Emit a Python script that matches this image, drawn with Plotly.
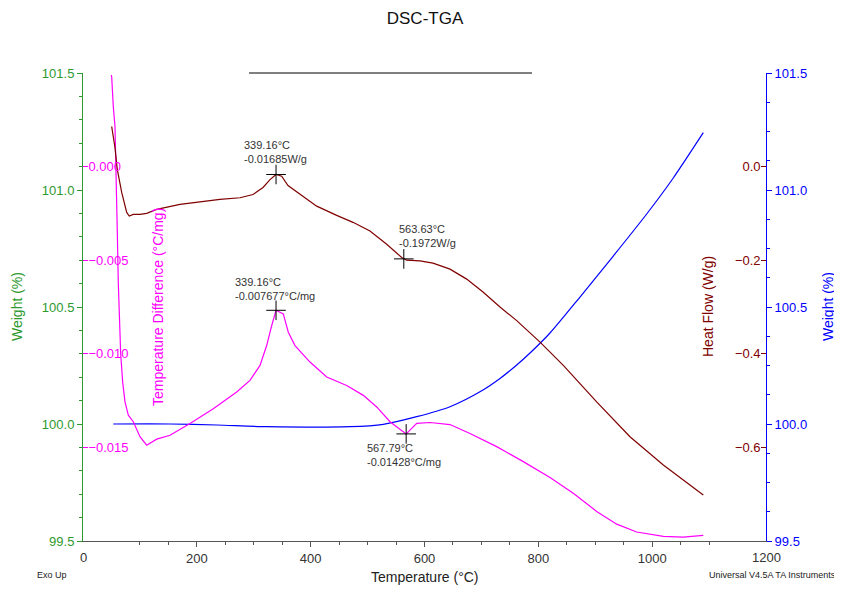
import plotly.graph_objects as go

# ---- data ----
td_temp = [49.7, 50.4, 53.2, 56.2, 57.5, 59.2, 60.3, 62.0, 65.0, 66.2, 69.7, 73.8, 79.6, 88.4,
           100.1, 111.9, 129.5, 152.9, 188.0, 228.9, 270.0, 293.4, 311.0, 322.7, 331.5, 337.3,
           339.16, 351.9, 360.7, 372.5, 398.8, 428.2, 463.3, 492.5, 516.0, 539.4, 567.79,
           574.5, 586.3, 609.7, 627.2, 644.8, 679.9, 726.8, 773.6, 820.5, 861.4, 902.5,
           937.7, 972.8, 1019.6, 1054.7, 1089.8]
td_vals = [0.00489, 0.00480, 0.00321, 0.00214, 0.00037, -0.00140, -0.00353, -0.00619, -0.00885,
           -0.01000, -0.01151, -0.01257, -0.01328, -0.01363, -0.01443, -0.01488, -0.01456,
           -0.01435, -0.01372, -0.01293, -0.01204, -0.01142, -0.01062, -0.00956, -0.00850,
           -0.00778, -0.007677, -0.00787, -0.00885, -0.00956, -0.01044, -0.01124, -0.01169,
           -0.01222, -0.01284, -0.01363, -0.01428, -0.01408, -0.01372, -0.01367, -0.01372,
           -0.01378, -0.01426, -0.01496, -0.01576, -0.01661, -0.01745, -0.01842, -0.01910,
           -0.01952, -0.01975, -0.01979, -0.01970]

hf_temp = [50.4, 56.2, 60.3, 68.0, 76.8, 81.3, 88.4, 100.1, 111.9, 129.5, 170.4, 240.7, 275.8,
           298.7, 316.3, 328.6, 339.16, 349.1, 360.2, 381.3, 410.6, 445.7, 474.4, 504.2, 533.6,
           560.0, 563.63, 568.7, 592.1, 614.9, 644.8, 674.1, 702.8, 732.6, 762.0, 803.0, 843.9,
           902.5, 961.0, 1019.6, 1089.8]
hf_vals = [0.0857, 0.0404, -0.0064, -0.0553, -0.0979, -0.1057, -0.1021, -0.1021, -0.1000,
           -0.0915, -0.0809, -0.0702, -0.0666, -0.0596, -0.0447, -0.0277, -0.01685, -0.0206,
           -0.0404, -0.0596, -0.0845, -0.1043, -0.1191, -0.1377, -0.1660, -0.1943, -0.1972,
           -0.2000, -0.2015, -0.2064, -0.2191, -0.2404, -0.2681, -0.3000, -0.3291, -0.3751,
           -0.4249, -0.5028, -0.5772, -0.6377, -0.7015]

wt_temp = [53.2, 152.9, 234.9, 322.7, 469.1, 527.6, 586.3, 644.8, 702.8, 732.6, 762.0, 785.4,
           820.5, 873.2, 931.7, 990.4, 1037.1, 1089.8]
wt_vals = [100.000, 100.000, 99.9957, 99.9885, 99.9885, 99.9987, 100.0312, 100.0739, 100.1453,
           100.1944, 100.2521, 100.3034, 100.3889, 100.5427, 100.7179, 100.8974, 101.0513,
           101.2449]

hf_peak_t = [339.16, 563.63]
hf_peak_v = [-0.01685, -0.1972]
td_peak_t = [339.16, 567.79]
td_peak_v = [-0.007677, -0.01428]

hf_ticks = [0.0, -0.2, -0.4, -0.6]
td_ticks = [0.0, -0.005, -0.010, -0.015]
x_edge_ticks = [0, 1200]   # end labels, hidden by plotly next to inside-label axes

GREEN = "#2E9A2E"
MAG = "#FF00FF"
BROWN = "#800000"
BLUE = "#0000FF"
TXT = "#333333"
FONT = "Liberation Sans, Arial, sans-serif"

# page body has an 8px margin: size the figure so the plot lands where the reference has it
W, H = 834, 582
ML, MR, MT, MB = 75, 76, 65, 49
PW, PH = W - ML - MR, H - MT - MB


def px_x(px):   # page pixel -> paper x
    return (px - 8 - ML) / PW


def px_y(py):   # page pixel -> paper y
    return 1 - (py - 8 - MT) / PH


fig = go.Figure()
fig.add_trace(go.Scatter(x=wt_temp, y=wt_vals, yaxis="y", mode="lines",
                         line=dict(color=BLUE, width=1.2, shape="spline", smoothing=0.7),
                         showlegend=False))
fig.add_trace(go.Scatter(x=td_temp, y=td_vals, yaxis="y2", mode="lines",
                         line=dict(color=MAG, width=1.2), showlegend=False))
fig.add_trace(go.Scatter(x=hf_temp, y=hf_vals, yaxis="y3", mode="lines",
                         line=dict(color=BROWN, width=1.2), showlegend=False))
cross = dict(symbol="cross-thin", size=14, color="black", line=dict(width=1, color="black"))
fig.add_trace(go.Scatter(x=hf_peak_t, y=hf_peak_v, yaxis="y3", mode="markers",
                         marker=cross, showlegend=False))
fig.add_trace(go.Scatter(x=td_peak_t, y=td_peak_v, yaxis="y2", mode="markers",
                         marker=cross, showlegend=False))
# invisible trace so the right-hand weight axis is drawn
fig.add_trace(go.Scatter(x=wt_temp, y=wt_vals, yaxis="y4", mode="lines",
                         line=dict(color="rgba(0,0,0,0)", width=0), showlegend=False,
                         hoverinfo="skip"))

ann = []


def note(x, y, yref, text):
    ann.append(dict(x=x, y=y, xref="x", yref=yref, text=text, showarrow=False,
                    xanchor="left", yanchor="middle", align="left",
                    font=dict(size=11, color=TXT, family=FONT)))


note(279, 0.032, "y3", "339.16°C<br>-0.01685W/g")
note(551.7, -0.149, "y3", "563.63°C<br>-0.1972W/g")
note(263.5, -0.00654, "y2", "339.16°C<br>-0.007677°C/mg")
note(495.5, -0.01543, "y2", "567.79°C<br>-0.01428°C/mg")


def ytitle(px, text, color):
    ann.append(dict(x=px_x(px), y=0.5, xref="paper", yref="paper", text=text,
                    showarrow=False, textangle=-90, xanchor="center", yanchor="middle",
                    font=dict(size=14, color=color, family=FONT)))


ytitle(17, "Weight (%)", GREEN)
ytitle(158, "Temperature Difference (°C/mg)", MAG)
ytitle(708, "Heat Flow (W/g)", BROWN)
ytitle(828, "Weight (%)", BLUE)

for v in x_edge_ticks:
    ann.append(dict(x=v, y=px_y(557), xref="x", yref="paper", text=str(v), showarrow=False,
                    xanchor="center", yanchor="middle",
                    font=dict(size=13, color="#333333", family=FONT)))

ann.append(dict(x=0.5, y=px_y(577), xref="paper", yref="paper",
                text="Temperature (°C)", showarrow=False, xanchor="center", yanchor="middle",
                font=dict(size=14, color="#222222", family=FONT)))
ann.append(dict(x=px_x(35), y=px_y(575), xref="paper", yref="paper",
                text="Exo Up", showarrow=False, xanchor="left", yanchor="middle",
                font=dict(size=9, color="#222222", family=FONT)))
ann.append(dict(x=px_x(838), y=px_y(575), xref="paper", yref="paper",
                text="Universal V4.5A TA Instruments", showarrow=False, xanchor="right",
                yanchor="middle", font=dict(size=9, color="#222222", family=FONT)))

fig.update_layout(
    width=W, height=H,
    margin=dict(l=ML, r=MR, t=MT, b=MB),
    paper_bgcolor="white", plot_bgcolor="white",
    font=dict(family=FONT, size=13, color=TXT),
    title=dict(text="DSC-TGA", x=0.5, xanchor="center", y=1 - (18 - 8) / H, yanchor="middle",
               font=dict(size=17, color="#111111", family=FONT)),
    annotations=ann,
    shapes=[dict(type="line", xref="x", yref="paper", x0=291.7, x1=788.9, y0=1, y1=1,
                 line=dict(color="black", width=1))],
    xaxis=dict(range=[0, 1200], tickmode="linear", tick0=0, dtick=200, ticks="outside",
               ticklen=5, tickcolor="#555555", showline=True, linecolor="#555555",
               showgrid=False, zeroline=False, tickfont=dict(size=13, color="#333333"),
               minor=dict(dtick=50, ticks="outside", ticklen=3, tickcolor="#555555",
                          showgrid=False)),
    yaxis=dict(range=[99.5, 101.5], tickmode="linear", tick0=99.5, dtick=0.5,
               tickformat=".1f", ticks="outside", ticklen=5, tickcolor=GREEN,
               showline=True, linecolor=GREEN, showgrid=False, zeroline=False,
               tickfont=dict(size=13, color=GREEN),
               minor=dict(dtick=0.1, ticks="outside", ticklen=3, tickcolor=GREEN,
                          showgrid=False)),
    yaxis2=dict(range=[-0.02, 0.005], overlaying="y", side="left", anchor="x",
                tickmode="array", tickvals=td_ticks, tickformat=".3f",
                ticks="inside", ticklen=5, tickcolor=MAG, ticklabelposition="inside",
                showline=False, showgrid=False, zeroline=False,
                tickfont=dict(size=13, color=MAG)),
    yaxis3=dict(range=[-0.8, 0.2], overlaying="y", side="right", anchor="x",
                tickmode="array", tickvals=hf_ticks, tickformat=".1f",
                ticks="inside", ticklen=5, tickcolor=BROWN, ticklabelposition="inside",
                showline=False, showgrid=False, zeroline=False,
                tickfont=dict(size=13, color=BROWN)),
    yaxis4=dict(range=[99.5, 101.5], overlaying="y", side="right", anchor="x",
                tickmode="linear", tick0=99.5, dtick=0.5, tickformat=".1f",
                ticks="outside", ticklen=5, tickcolor=BLUE, showline=True, linecolor=BLUE,
                showgrid=False, zeroline=False, tickfont=dict(size=13, color=BLUE),
                minor=dict(dtick=0.125, ticks="outside", ticklen=3, tickcolor=BLUE,
                           showgrid=False)),
)

fig.write_html("out.html")
